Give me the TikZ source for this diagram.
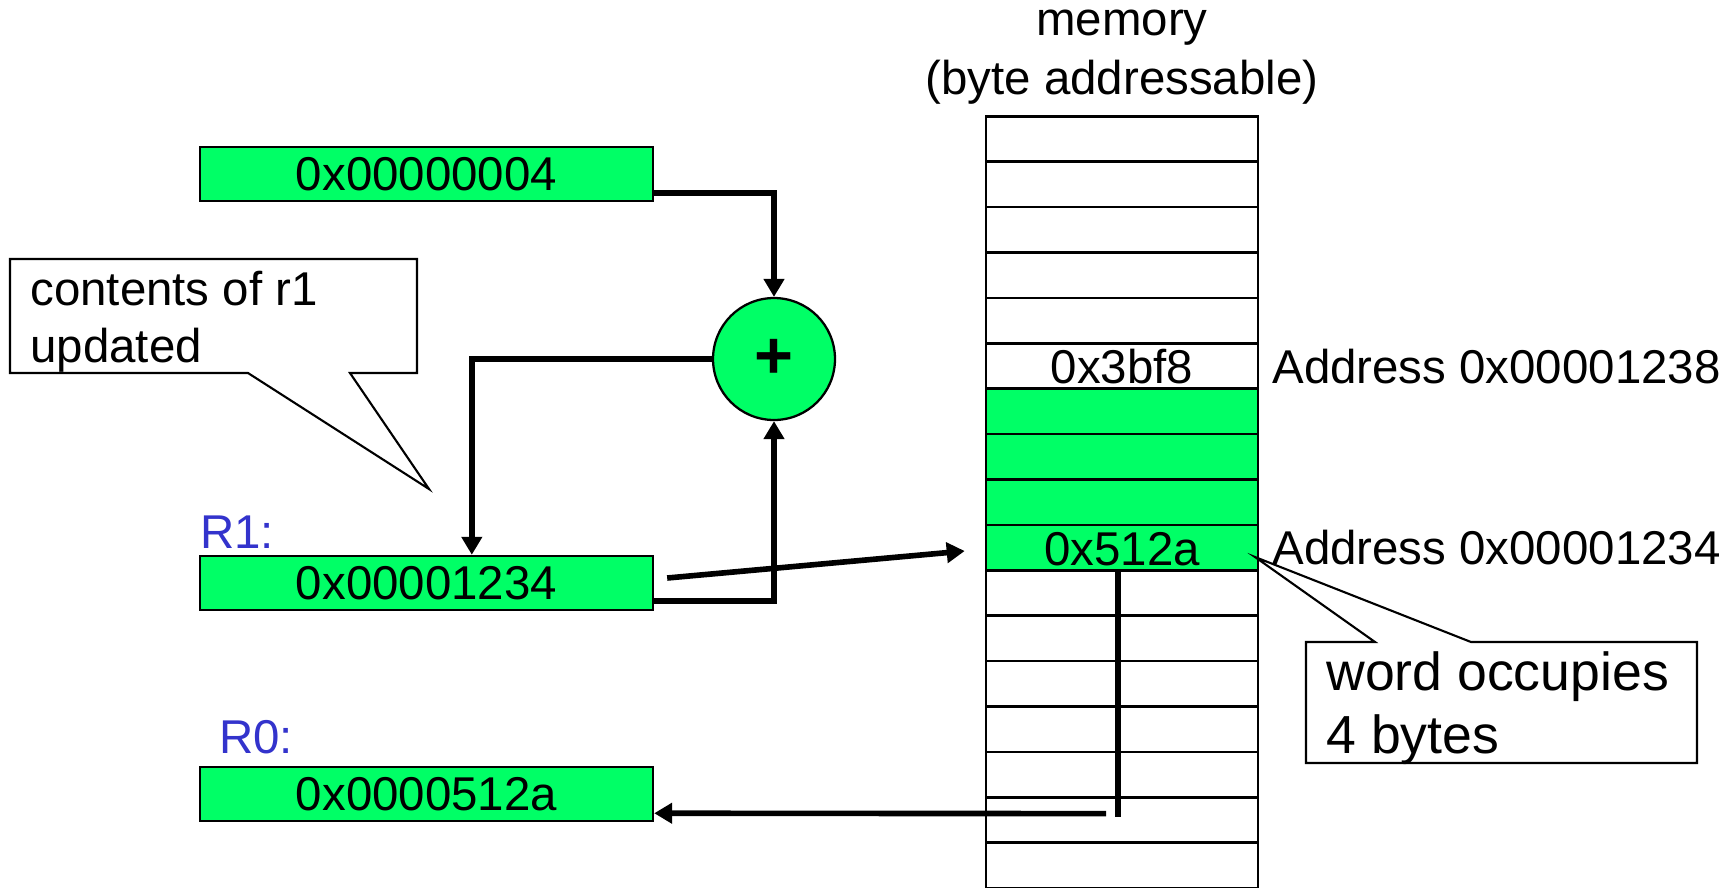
\documentclass[tikz,border=0pt]{standalone}
\usepackage{fontspec}
\setmainfont{Liberation Sans}
\usetikzlibrary{arrows.meta,calc}
\definecolor{regfill}{RGB}{0,255,102}
\definecolor{lblue}{RGB}{51,51,204}
\begin{document}
\begin{tikzpicture}[x=0.02cm,y=-0.02cm,
  font=\fontsize{27}{32}\selectfont,
  reg/.style={draw, line width=1.4pt, fill=regfill, minimum width=9.06cm, minimum height=1.08cm, inner sep=0pt},
  memcell/.style={draw, line width=1.5pt, minimum width=5.44cm, minimum height=0.908cm, inner sep=0pt},
  conn/.style={line width=3.2pt},
  arr/.style={conn, -{Triangle[length=0.36cm,width=0.4cm]}},
  lbl/.style={inner sep=0pt, anchor=base west},
  ctr/.style={inner sep=0pt, anchor=base},
  callout/.style={draw, line width=1.2pt, fill=white, line join=miter}]
\useasboundingbox (0,0) rectangle (1736,887);

% memory column
\foreach \i in {0,...,4,10,11,12,13,14,15,16}
  \node[memcell] (m\i) at (1122,{139+45.4*\i}) {};
\foreach \i in {6,7,8}
  \node[memcell, fill=regfill] (m\i) at (1122,{139+45.4*\i}) {};
\node[memcell] (m5) at (1122,{139+45.4*5}) {};
\node[memcell, fill=regfill] (m9) at (1122,{139+45.4*9}) {};
\node[ctr] (t5) at (1122,383) {0x3bf8};
\node[ctr] (t9) at (1122,565) {0x512a};

% title
\node[ctr] (title1) at (1122,35) {memory};
\node[ctr] (title2) at (1122,94) {(byte addressable)};

% address labels
\node[lbl] (a1238) at (1272,383) {Address 0x00001238};
\node[lbl] (a1234) at (1272,564) {Address 0x00001234};

% registers
\node[reg] (reg4) at (426.5,174) {0x00000004};
\node[reg] (r1) at (426.5,583) {0x00001234};
\node[reg] (r0) at (426.5,794) {0x0000512a};
\node[lbl, text=lblue] (lr1) at (200,548) {R1:};
\node[lbl, text=lblue] (lr0) at (219,753) {R0:};

% adder
\node[draw, circle, line width=1.3pt, fill=regfill, minimum size=2.44cm, inner sep=0pt,
      font=\fontsize{38}{40}\selectfont\bfseries] (plus) at (774,359) {+};

% connectors
\draw[arr] ($(reg4.south east)+(0,-9)$) -| (plus.north);
\coordinate (r1in) at ($(r1.north west)+(273,0)$);
\draw[arr] (plus.west) -| (r1in);
\draw[arr] ($(r1.south east)+(0,-10)$) -| (plus.south);
\draw[arr] ($(r1.east)+(13,-5)$) -- ($(m9.west)+(-20,3.4)$);
\coordinate (dropend) at ($(m9.south)+(-4,245)$);
\draw[conn] ($(m9.south)+(-4,-2)$) -- (dropend);
\draw[arr] ($(dropend)+(-12,-3)$) -- ($(r0.south east)+(0,-9)$);

% callout: contents of r1 updated
\draw[callout] (10,259) -- (417,259) -- (417,373) -- (350,373) -- (429,489)
  -- (248,373) -- (10,373) -- cycle;
\node[lbl] (c1a) at (30,305) {contents of r1};
\node[lbl] (c1b) at (30,362) {updated};

% callout: word occupies 4 bytes
\draw[callout] (1306,642) -- (1375,642) -- (1255,557) -- (1471,642) -- (1697,642)
  -- (1697,763) -- (1306,763) -- cycle;
\node[lbl, font=\fontsize{30.5}{34}\selectfont] (c2a) at (1326,690) {word occupies};
\node[lbl, font=\fontsize{30.5}{34}\selectfont] (c2b) at (1326,753) {4 bytes};
\end{tikzpicture}
\end{document}
